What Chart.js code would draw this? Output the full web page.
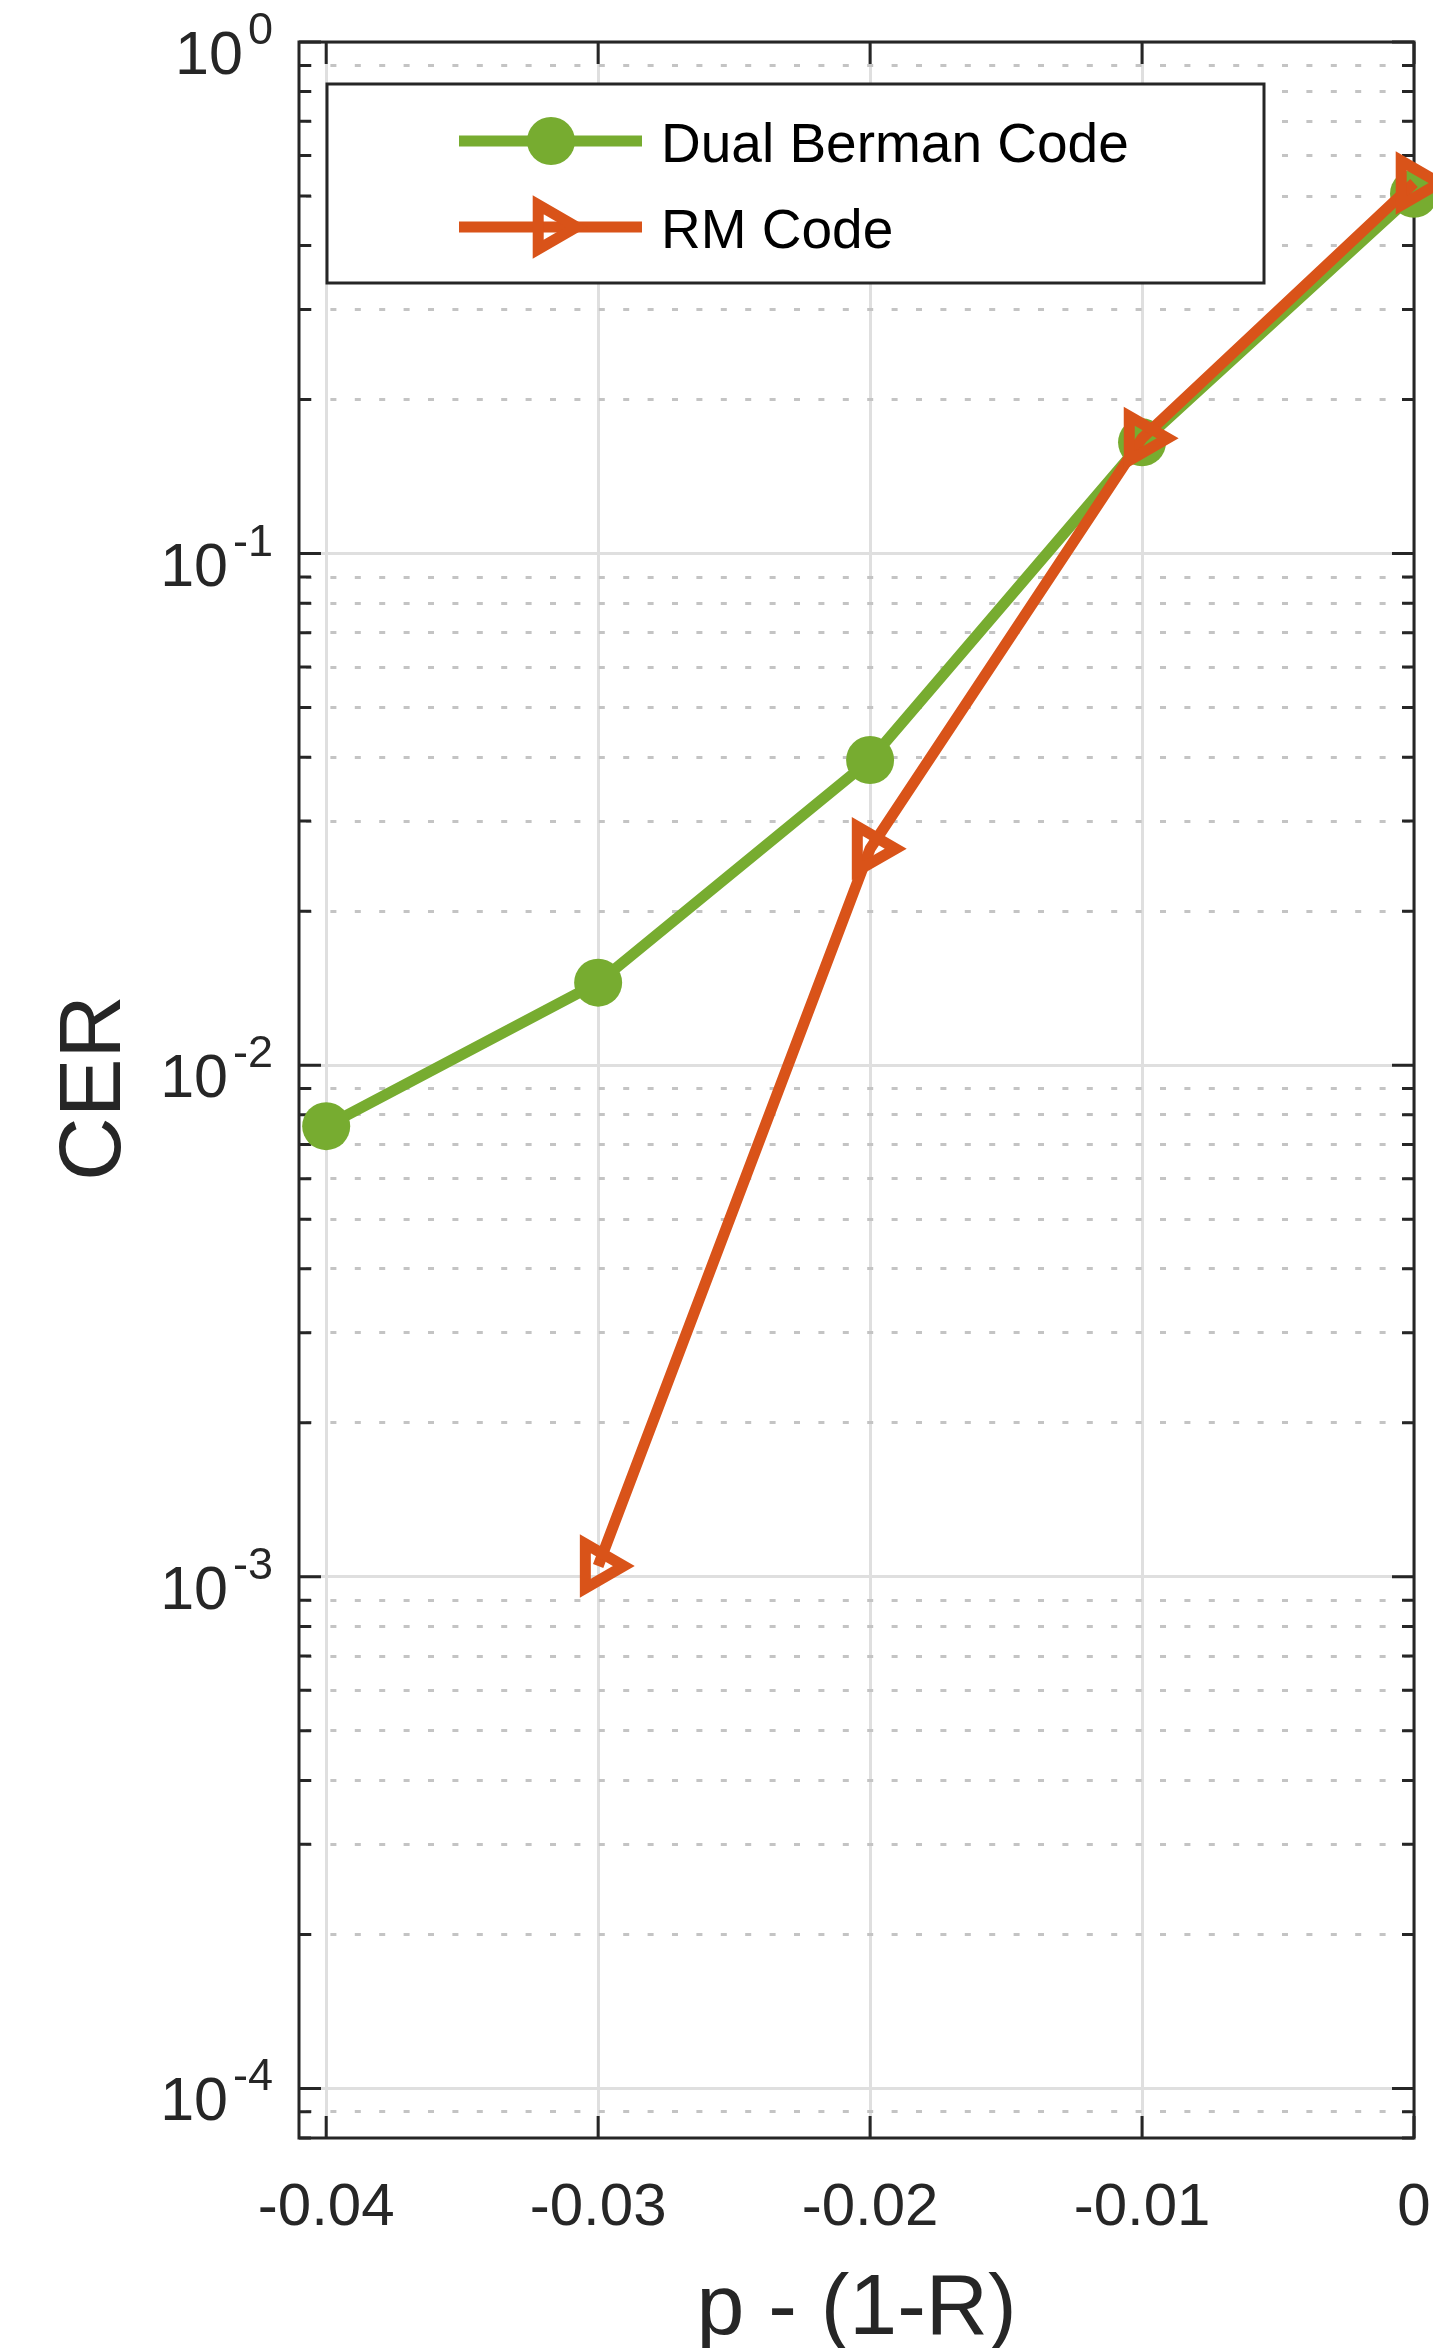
<!DOCTYPE html>
<html>
<head>
<meta charset="utf-8">
<script src="https://cdn.jsdelivr.net/npm/chart.js@4/dist/chart.umd.min.js"></script>
<style>
html,body{margin:0;padding:0;background:#ffffff;overflow:hidden;}
#wrap{position:relative;width:1433px;height:2348px;overflow:hidden;}
canvas{display:block;}
</style>
</head>
<body>
<div id="wrap"><canvas id="c" width="1480" height="2348"></canvas></div>
<script>
// ---------------- data ----------------
const xValues = [-0.04, -0.03, -0.02, -0.01, 0];
const dualBermanCER = [7.6e-3, 1.45e-2, 3.95e-2, 0.165, 0.505];
const rmX = [-0.03, -0.02, -0.01, 0];
const rmCER = [1.05e-3, 2.65e-2, 0.168, 0.53];
const seriesNames = ['Dual Berman Code', 'RM Code'];
const xTickValues = [-0.04, -0.03, -0.02, -0.01, 0];
const xTickLabels = ['-0.04', '-0.03', '-0.02', '-0.01', '0'];
const yTickExponents = [-4, -3, -2, -1, 0];
const xRange = [-0.041, 0];
const yRange = [8e-5, 1];
const xAxisTitle = 'p - (1-R)';
const yAxisTitle = 'CER';

// ---------------- style ----------------
const FONT = '"Liberation Sans", Arial, Helvetica, sans-serif';
const AXIS_COLOR = '#262626';
const GREEN = '#77AC30';
const RED = '#D95319';

const yMajor = yTickExponents.map(e => Math.pow(10, e));
const yMinor = [];
for (let e = -5; e <= 0; e++) {
  for (let m = 2; m <= 9; m++) {
    const v = m * Math.pow(10, e);
    if (v >= yRange[0] * 0.999 && v <= yRange[1] * 1.001) yMinor.push(v);
  }
}
const yMinorGrid = yMinor.filter(v => v > yRange[0] * 1.001 && v < yRange[1] * 0.999);

const frame = {
  id: 'matlabFrame',
  beforeDatasetsDraw(chart) {
    const {ctx, chartArea: a, scales} = chart;
    const x = scales.x, y = scales.y;
    ctx.save();
    ctx.strokeStyle = AXIS_COLOR;
    ctx.lineWidth = 3;
    ctx.beginPath();
    xTickValues.forEach(v => {
      const px = x.getPixelForValue(v);
      ctx.moveTo(px, a.bottom); ctx.lineTo(px, a.bottom - 22);
      ctx.moveTo(px, a.top); ctx.lineTo(px, a.top + 22);
    });
    yMajor.forEach(v => {
      const py = y.getPixelForValue(v);
      ctx.moveTo(a.left, py); ctx.lineTo(a.left + 22, py);
      ctx.moveTo(a.right, py); ctx.lineTo(a.right - 22, py);
    });
    yMinor.forEach(v => {
      const py = y.getPixelForValue(v);
      ctx.moveTo(a.left, py); ctx.lineTo(a.left + 12, py);
      ctx.moveTo(a.right, py); ctx.lineTo(a.right - 12, py);
    });
    ctx.stroke();
    ctx.strokeRect(a.left, a.top, a.right - a.left, a.bottom - a.top);
    ctx.restore();
  },
  afterDatasetsDraw(chart) {
    const ctx = chart.ctx;
    const ds = chart.data.datasets;
    ctx.save();
    // legend box
    ctx.fillStyle = '#ffffff';
    ctx.fillRect(327, 84, 937, 199);
    ctx.strokeStyle = AXIS_COLOR;
    ctx.lineWidth = 3;
    ctx.strokeRect(327, 84, 937, 199);
    const rows = [141, 227];
    ds.forEach((d, i) => {
      const yy = rows[i];
      ctx.strokeStyle = d.borderColor;
      ctx.lineWidth = d.borderWidth;
      ctx.lineCap = 'butt';
      ctx.beginPath();
      ctx.moveTo(459, yy); ctx.lineTo(642, yy);
      ctx.stroke();
      const cx = 551;
      ctx.beginPath();
      if (d.pointStyle === 'triangle') {
        const r = d.pointRadius;
        let rad = Math.PI / 2;
        ctx.moveTo(cx + Math.sin(rad) * r, yy - Math.cos(rad) * r);
        rad += 2 * Math.PI / 3;
        ctx.lineTo(cx + Math.sin(rad) * r, yy - Math.cos(rad) * r);
        rad += 2 * Math.PI / 3;
        ctx.lineTo(cx + Math.sin(rad) * r, yy - Math.cos(rad) * r);
        ctx.closePath();
        ctx.lineWidth = d.pointBorderWidth;
        ctx.strokeStyle = d.pointBorderColor;
        ctx.lineJoin = 'miter';
        ctx.stroke();
      } else {
        ctx.arc(cx, yy, d.pointRadius, 0, Math.PI * 2);
        ctx.fillStyle = d.pointBackgroundColor;
        ctx.fill();
      }
      ctx.fillStyle = '#000000';
      ctx.font = '55px ' + FONT;
      ctx.textAlign = 'left';
      ctx.textBaseline = 'alphabetic';
      ctx.fillText(d.label, 661, yy + 21);
    });
    ctx.restore();
  },
  afterDraw(chart) {
    const {ctx, chartArea: a, scales} = chart;
    const x = scales.x, y = scales.y;
    ctx.save();
    ctx.fillStyle = AXIS_COLOR;
    ctx.textBaseline = 'alphabetic';
    // x tick labels
    ctx.font = '60px ' + FONT;
    ctx.textAlign = 'center';
    xTickValues.forEach((v, i) => {
      ctx.fillText(xTickLabels[i], x.getPixelForValue(v), 2225);
    });
    // y tick labels 10^e
    ctx.textAlign = 'left';
    yTickExponents.forEach(e => {
      const py = y.getPixelForValue(Math.pow(10, e));
      const es = String(e);
      ctx.font = '61px ' + FONT;
      const w1 = ctx.measureText('10').width;
      ctx.font = '45px ' + FONT;
      const w2 = ctx.measureText(es).width;
      const x0 = 273 - w2 - 5 - w1;
      ctx.font = '61px ' + FONT;
      ctx.fillText('10', x0, py + 32);
      ctx.font = '45px ' + FONT;
      ctx.fillText(es, x0 + w1 + 5, py + 2);
    });
    // axis titles
    ctx.font = '86px ' + FONT;
    ctx.textAlign = 'center';
    ctx.fillText(xAxisTitle, (a.left + a.right) / 2, 2334);
    ctx.translate(120, (a.top + a.bottom) / 2 - 2);
    ctx.rotate(-Math.PI / 2);
    ctx.font = '88px ' + FONT;
    ctx.fillText(yAxisTitle, 0, 0);
    ctx.restore();
  }
};

const zeroFit = s => { if (s.isHorizontal()) s.height = 0; else s.width = 0; };

new Chart(document.getElementById('c'), {
  type: 'line',
  data: {
    datasets: [
      {
        label: seriesNames[0],
        data: xValues.map((v, i) => ({x: v, y: dualBermanCER[i]})),
        borderColor: GREEN,
        backgroundColor: GREEN,
        borderWidth: 11,
        pointStyle: 'circle',
        pointRadius: 24,
        pointBackgroundColor: GREEN,
        pointBorderColor: GREEN,
        pointBorderWidth: 0,
        fill: false,
        clip: false,
        order: 2
      },
      {
        label: seriesNames[1],
        data: rmX.map((v, i) => ({x: v, y: rmCER[i]})),
        borderColor: RED,
        backgroundColor: 'rgba(0,0,0,0)',
        borderWidth: 11,
        pointStyle: 'triangle',
        pointRotation: 90,
        pointRadius: 25.6,
        pointBackgroundColor: 'rgba(0,0,0,0)',
        pointBorderColor: RED,
        pointBorderWidth: 11,
        fill: false,
        clip: false,
        order: 1
      }
    ]
  },
  options: {
    responsive: false,
    devicePixelRatio: 1,
    animation: false,
    events: [],
    layout: {padding: {left: 299, top: 42, right: 66, bottom: 210}},
    plugins: {legend: {display: false}, tooltip: {enabled: false}, title: {display: false}},
    scales: {
      x: {
        type: 'linear', min: xRange[0], max: xRange[1],
        afterBuildTicks: s => { s.ticks = xTickValues.map(v => ({value: v})); },
        afterFit: zeroFit,
        ticks: {display: false},
        grid: {display: true, drawTicks: false, color: '#dfdfdf', lineWidth: 3},
        border: {display: false}
      },
      y: {
        type: 'logarithmic', min: yRange[0], max: yRange[1],
        afterBuildTicks: s => { s.ticks = yMajor.map(v => ({value: v})); },
        afterFit: zeroFit,
        ticks: {display: false},
        grid: {display: true, drawTicks: false, color: '#dfdfdf', lineWidth: 3},
        border: {display: false}
      },
      yMinor: {
        type: 'logarithmic', min: yRange[0], max: yRange[1], position: 'left',
        afterBuildTicks: s => { s.ticks = yMinorGrid.map(v => ({value: v})); },
        afterFit: zeroFit,
        ticks: {display: false},
        grid: {display: true, drawTicks: false, color: '#c4c4c4', lineWidth: 3},
        border: {display: false, dash: [6, 18.4], dashOffset: 17.4}
      }
    }
  },
  plugins: [frame]
});
</script>
</body>
</html>
